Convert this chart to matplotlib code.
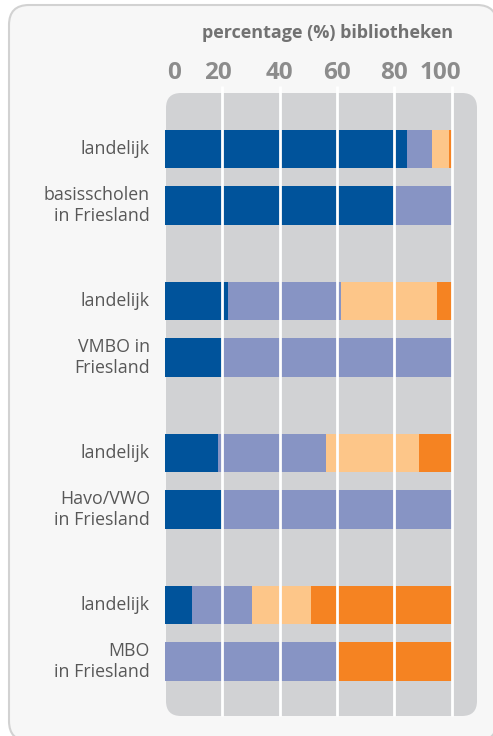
import matplotlib
matplotlib.use("Agg")
import matplotlib.pyplot as plt
from matplotlib.patches import FancyBboxPatch
import numpy as np

plt.rcParams['font.family'] = ['Open Sans', 'DejaVu Sans']

# ---- data ----
categories = ['landelijk', 'basisscholen\nin Friesland',
              'landelijk', 'VMBO in\nFriesland',
              'landelijk', 'Havo/VWO\nin Friesland',
              'landelijk', 'MBO\nin Friesland']
group_of_row = [0, 0, 1, 1, 2, 2, 3, 3]
row_in_group = [0, 1, 0, 1, 0, 1, 0, 1]
series_dark_blue = [84.5, 80, 22, 20, 18.6, 20, 9.5, 0]
series_light_blue = [8.8, 20, 39.5, 80, 37.5, 80, 21, 60]
series_light_orange = [6.0, 0, 33.3, 0, 32.7, 0, 20.4, 0]
series_orange = [0.7, 0, 5.2, 0, 11.2, 0, 49.1, 40]
xticks = [0, 20, 40, 60, 80, 100]
xlabel = 'percentage (%) bibliotheken'

colors = ['#00539b', '#8794c4', '#fdc689', '#f58322']

W, H = 493, 736
fig = plt.figure(figsize=(W / 100, H / 100), dpi=100)
fig.patch.set_facecolor('white')

def px_box(x0, y0, x1, y1, **kw):
    return FancyBboxPatch((x0 / 100, (H - y1) / 100), (x1 - x0) / 100, (y1 - y0) / 100,
                          transform=fig.dpi_scale_trans, **kw)

outer = px_box(9, 5, 497, 741, boxstyle="round,pad=0,rounding_size=0.2",
               facecolor='#f7f7f7', edgecolor='#d2d2d2', linewidth=1.5, zorder=-10)
fig.patches.append(outer)
panel = px_box(166, 93, 477, 716, boxstyle="round,pad=0,rounding_size=0.15",
               facecolor='#d1d2d4', edgecolor='none', zorder=-9)
fig.patches.append(panel)

px0, px1 = 165, 477
py0, py1 = 93, 716
ax = fig.add_axes([px0 / W, 1 - py1 / H, (px1 - px0) / W, (py1 - py0) / H])
ax.patch.set_visible(False)
for s in ax.spines.values():
    s.set_visible(False)

unit = (451.5 - 165) / 100.0
ax.set_xlim(0, (px1 - px0) / unit)

row_step = 56.5
group_step = 152.0
first_center = 149.0
ypos = np.array([first_center + g * group_step + r * row_step
                 for g, r in zip(group_of_row, row_in_group)])
ax.set_ylim(py1, py0)

bar_h = 38.5
left = np.zeros(len(categories))
for vals, c in zip([series_dark_blue, series_light_blue, series_light_orange, series_orange], colors):
    vals = np.array(vals, dtype=float)
    ax.barh(ypos, vals, left=left, height=bar_h, color=c, linewidth=0, zorder=2)
    left += vals

for t in xticks[1:]:
    ax.plot([t, t], [py1, py0 - 7], color='white', lw=2.0, zorder=3,
            clip_on=False, solid_capstyle='butt')

ax.set_xticks([])
ax.set_yticks([])

label_nudge_px = [9, -4, 0, 0, 0, -11]
for t, dx in zip(xticks, label_nudge_px):
    ax.annotate(str(t), xy=(t, 73), xytext=(dx * 0.72, 0), textcoords='offset points',
                ha='center', va='center', fontsize=17.5, fontweight='bold',
                color='#8c8c8c', annotation_clip=False)

fig.text(328 / W, 1 - 33 / H, xlabel, ha='center', va='center', fontsize=13,
         fontweight='bold', color='#727272')

for y, lab in zip(ypos, categories):
    fig.text(150 / W, 1 - y / H, lab, ha='right', va='center', fontsize=12.8,
             color='#585858', linespacing=1.2)

fig.savefig('out.png', dpi=100, facecolor=fig.get_facecolor())
